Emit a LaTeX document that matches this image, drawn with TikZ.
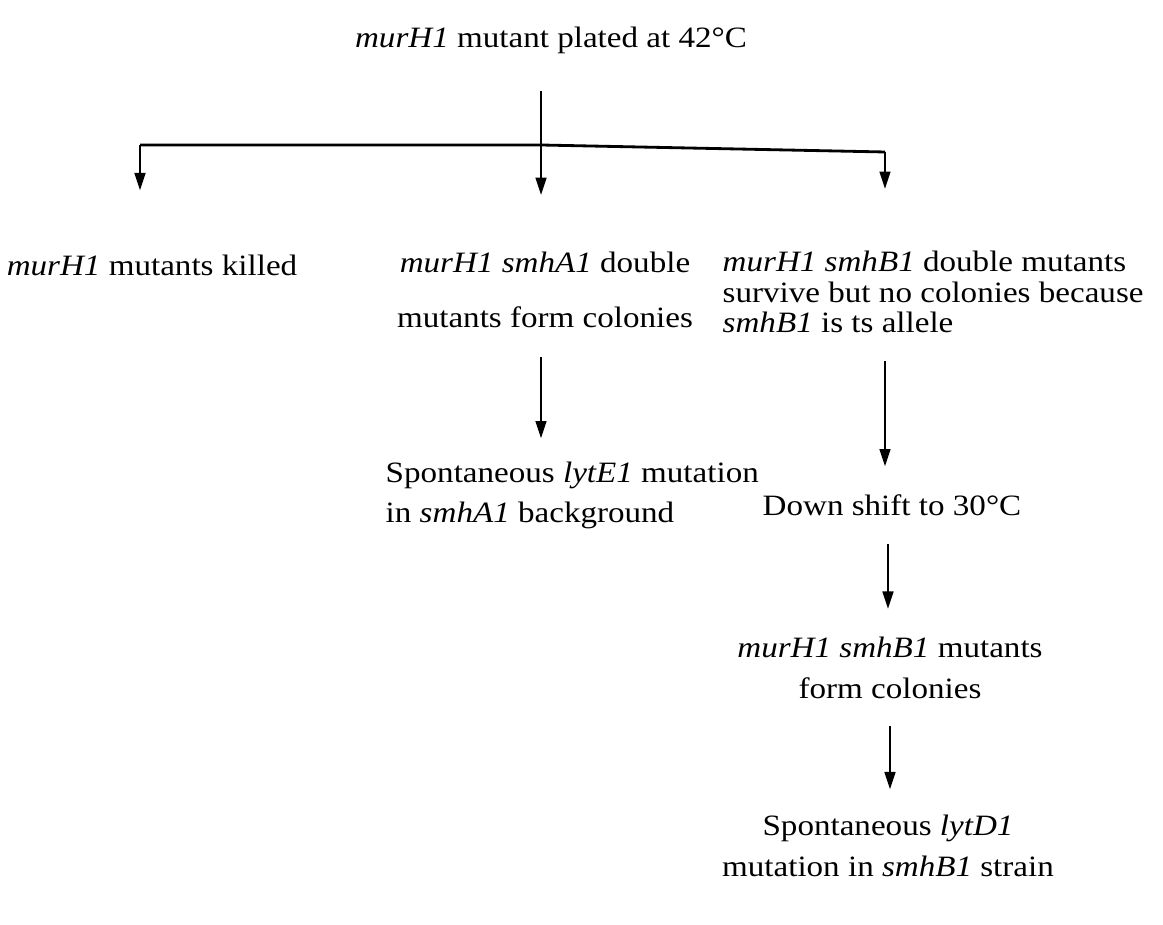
\documentclass[tikz,border=0pt]{standalone}
\usepackage{fontspec}
\setmainfont{Liberation Serif}[FakeStretch=1.12]
\usetikzlibrary{arrows.meta}
\newcommand{\gn}[1]{\textit{#1}}

\begin{document}
\begin{tikzpicture}[x=.01cm,y=-.01cm,font=\fontsize{8.4}{11.8}\selectfont,
txt/.style={inner sep=2pt},
lft/.style={align=left,inner sep=2pt},
ctr/.style={align=center,inner sep=2pt},
lnk/.style={line width=.8pt},
arr/.style={-{Triangle[length=5pt,width=3pt]},line width=.8pt}]
\useasboundingbox (0,0) rectangle (1163,925);

\node[txt] (top)at(551,40){\gn{murH1} mutant plated at 42°C};
\coordinate (fork)at(541,145);
\coordinate (fl)at(140,145);
\coordinate (fr)at(885,152);

\node[txt] (kill)at(152,265){\gn{murH1} mutants killed};
\node[ctr,font=\fontsize{8.4}{15.6}\selectfont] (dbla)at(545,290){\gn{murH1 smhA1} double\\mutants form colonies};
\node[lft,anchor=west,font=\fontsize{8.4}{8.6}\selectfont] (dblb)at(715,292){\gn{murH1 smhB1} double mutants\\survive but no colonies because\\\gn{smhB1} is ts allele};
\node[lft,anchor=west,font=\fontsize{8.4}{11.4}\selectfont] (lyte)at(378,495){Spontaneous \gn{lytE1} mutation\\in \gn{smhA1} background};
\node[txt] (shift)at(892,505){Down shift to 30°C};
\node[ctr] (colb)at(890,668){\gn{murH1 smhB1} mutants\\form colonies};
\node[ctr] (lytd)at(888,846){Spontaneous \gn{lytD1}\\mutation in \gn{smhB1} strain};

% fork under the title
\draw[lnk,shorten <=8.5pt](top.south -| fork)--(fork);
\draw[lnk](fl)--(fork)--(fr);
\draw[arr,shorten >=16pt](fl)--(fl |- kill.north);
\draw[arr,shorten >=14pt](fork)--(fork |- dbla.north);
\draw[arr,shorten >=15.5pt](fr)--(fr |- dblb.north);

% chains
\draw[arr,shorten <=6pt,shorten >=4.3pt](fork |- dbla.south)--(fork |- lyte.north);
\draw[arr,shorten <=6pt,shorten >=5.7pt](fr |- dblb.south)--(fr |- shift.north);
\draw[arr,shorten <=6pt,shorten >=5.7pt](shift.south -| 888,0)--(colb.north -| 888,0);
\draw[arr,shorten <=5.4pt,shorten >=5pt](colb.south -| 890,0)--(lytd.north -| 890,0);
\end{tikzpicture}
\end{document}
